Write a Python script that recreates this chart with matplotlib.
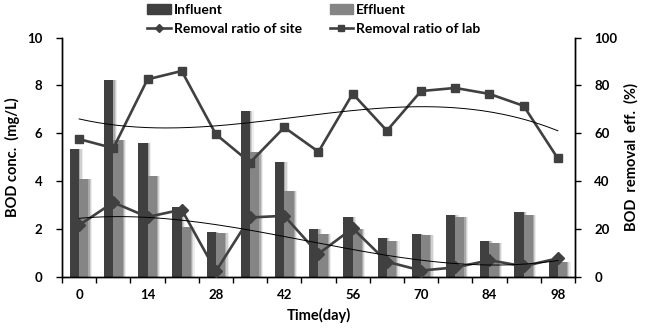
# BOD influent/effluent concentrations with removal ratios (site vs lab)
import numpy as np
import matplotlib.pyplot as plt
from matplotlib.patches import Patch
from matplotlib.lines import Line2D

plt.rcParams['font.family'] = ['Lato', 'DejaVu Sans']
plt.rcParams['font.weight'] = 'bold'

# data
days = [0, 7, 14, 21, 28, 35, 42, 49, 56, 63, 70, 77, 84, 91, 98]
influent = [5.33, 8.22, 5.6, 2.9, 1.88, 6.93, 4.79, 1.98, 2.47, 1.6, 1.77, 2.57, 1.49, 2.68, 0.7]
effluent = [4.09, 5.71, 4.2, 2.09, 1.84, 5.23, 3.57, 1.77, 2.0, 1.49, 1.73, 2.47, 1.39, 2.59, 0.62]
site_ratio = [21.5, 31.0, 24.9, 28.0, 2.2, 24.7, 25.4, 9.5, 20.2, 6.2, 2.5, 3.8, 6.8, 4.3, 7.6]
lab_ratio = [57.5, 53.7, 82.5, 86.0, 59.5, 47.7, 62.4, 52.2, 76.5, 61.0, 77.6, 78.9, 76.4, 71.4, 49.4]
tick_days = [0, 14, 28, 42, 56, 70, 84, 98]

dark = '#404040'
light = '#858585'

fig = plt.figure(figsize=(6.46, 3.35), dpi=100)
ax = fig.add_axes([0.096, 0.1746, 0.794, 0.7134])
ax2 = ax.twinx()

x = np.arange(len(days))
w = 0.27

# soft shadow to the right of the bars, like the Excel effect
for off, a in [(0.035, 0.18), (0.07, 0.12), (0.105, 0.07)]:
    ax.bar(x - w / 2 + off, influent, w, color='#000000', alpha=a, zorder=1, linewidth=0)
    ax.bar(x + w / 2 + off, effluent, w, color='#000000', alpha=a, zorder=1, linewidth=0)
ax.bar(x - w / 2, influent, w, color=dark, zorder=2, linewidth=0)
ax.bar(x + w / 2, effluent, w, color=light, zorder=2, linewidth=0)

# removal ratio lines on the secondary axis
ax2.plot(x, site_ratio, color=dark, lw=1.9, marker='D', ms=6, zorder=3)
ax2.plot(x, lab_ratio, color=dark, lw=1.9, marker='s', ms=6, zorder=3)

# polynomial trendlines (order 3, Excel style with x = 1..n)
xs = np.linspace(0, len(days) - 1, 200)
for series in (site_ratio, lab_ratio):
    coef = np.polyfit(x + 1, series, 3)
    ax2.plot(xs, np.polyval(coef, xs + 1), color='black', lw=0.7, zorder=4)

ax.set_xlim(-0.5, len(days) - 0.5)
ax.set_ylim(0, 10)
ax2.set_ylim(0, 100)
ax.set_yticks(range(0, 11, 2))
ax2.set_yticks(range(0, 101, 20))

# ticks at category boundaries, labels at every other category
ax.set_xticks(np.arange(-0.5, len(days), 1.0))
ax.set_xticklabels([])
ax.set_xticks([days.index(d) for d in tick_days], minor=True)
ax.set_xticklabels([str(d) for d in tick_days], minor=True)
ax.tick_params(axis='x', which='minor', length=0, pad=9, labelsize=9.5)
ax.tick_params(axis='x', which='major', length=4, width=1, direction='out')
ax.tick_params(axis='y', length=4, width=1, direction='out', labelsize=9.5, pad=10)
ax2.tick_params(axis='y', length=4, width=1, direction='out', labelsize=9.5, pad=10)

for a in (ax, ax2):
    a.spines['top'].set_visible(False)
    for s in ('left', 'right', 'bottom'):
        a.spines[s].set_linewidth(1.0)

ax.set_ylabel('BOD conc.  (mg/L)', fontsize=10.5, fontweight='bold', labelpad=5)
ax2.set_ylabel('BOD  removal  eff.  (%)', fontsize=10.5, fontweight='bold', labelpad=5)
ax.set_xlabel('Time(day)', fontsize=10.5, fontweight='bold', labelpad=5)

handles = [Patch(color=dark),
           Line2D([], [], color=dark, lw=1.9, marker='D', ms=4),
           Patch(color=light),
           Line2D([], [], color=dark, lw=1.9, marker='s', ms=4)]
labels = ['Influent', 'Removal ratio of site', 'Effluent', 'Removal ratio of lab']
fig.legend(handles, labels, ncol=2, loc='upper left', bbox_to_anchor=(0.228, 0.988),
           frameon=False, fontsize=10, handlelength=1.7, handletextpad=0.2,
           columnspacing=2.0, labelspacing=0.5, borderpad=0, borderaxespad=0)

fig.savefig('out.png', dpi=100)
